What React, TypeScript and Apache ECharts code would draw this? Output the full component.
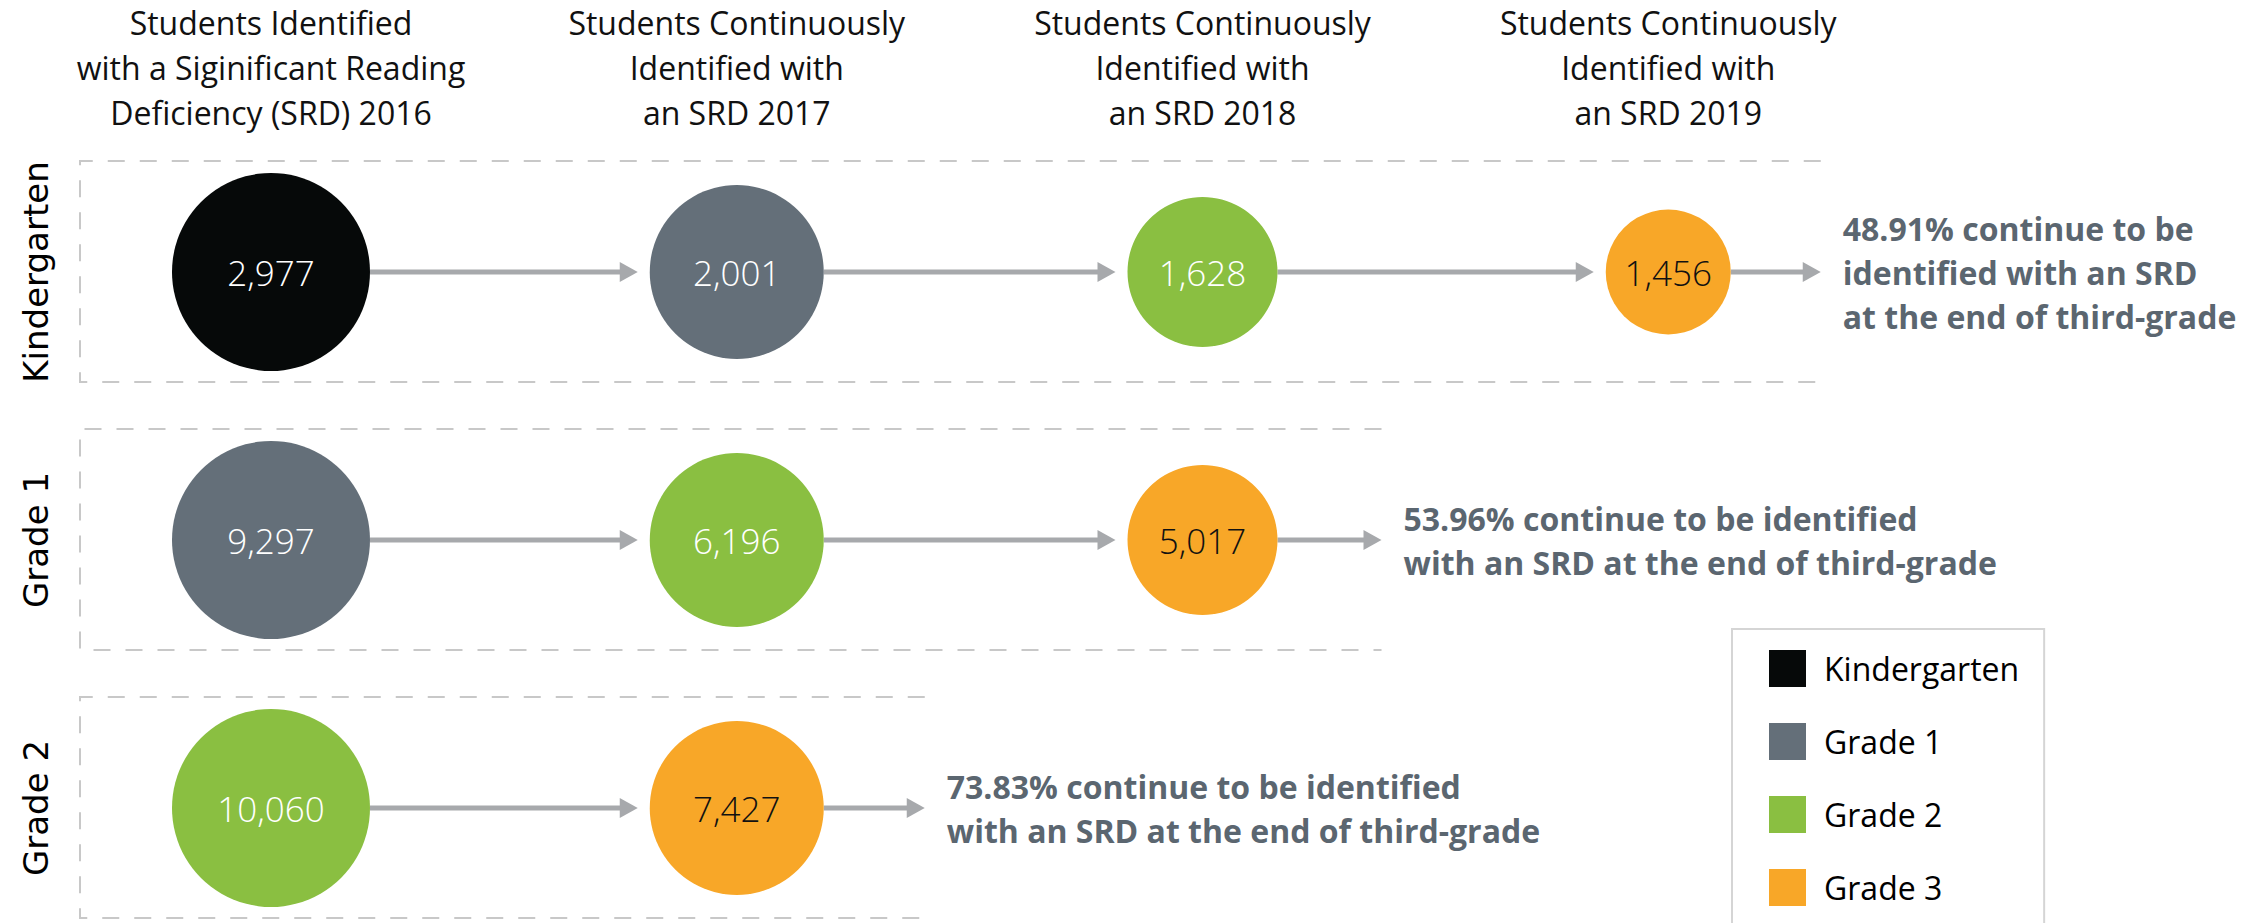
import React, { useEffect, useRef } from "react";
import * as echarts from "echarts";

// ---- data ----
const steps = [
  "Students Identified\nwith a Siginificant Reading\nDeficiency (SRD) 2016",
  "Students Continuously\nIdentified with\nan SRD 2017",
  "Students Continuously\nIdentified with\nan SRD 2018",
  "Students Continuously\nIdentified with\nan SRD 2019",
];
const cohorts = ["Kindergarten", "Grade 1", "Grade 2"];
const kindergartenCounts = [2977, 2001, 1628, 1456];
const grade1Counts = [9297, 6196, 5017];
const grade2Counts = [10060, 7427];
const outcomeText = [
  "48.91% continue to be\nidentified with an SRD\nat the end of third-grade",
  "53.96% continue to be identified\nwith an SRD at the end of third-grade",
  "73.83% continue to be identified\nwith an SRD at the end of third-grade",
];
const grades = ["Kindergarten", "Grade 1", "Grade 2", "Grade 3"];

// ---- styles ----
const gradeColors = ["#060909", "#646f79", "#8abf41", "#f8a728"];
const STEP_RADIUS = [99, 87, 75, 62.5];
const ARROW = "#a7a9ac";
const HEAD = 18;
const GAP = 12;
const TAIL = [90, 104, 101];

const fmt = (v: number) => v.toLocaleString("en-US");

export default function App() {
  const ref = useRef<HTMLDivElement>(null);
  useEffect(() => {
    const chart = echarts.init(ref.current!, null, { renderer: "svg" });
    const counts = [kindergartenCounts, grade1Counts, grade2Counts];
    const points = counts.flatMap((arr, r) => arr.map((v, c) => ({ c, r, v, len: arr.length })));

    const gradeSeries = grades.map((name, g) => ({
      name,
      type: "scatter",
      clip: false,
      z: 3,
      itemStyle: { color: gradeColors[g], opacity: 1 },
      symbolSize: (val: number[]) => STEP_RADIUS[val[0]] * 2,
      emphasis: { disabled: true },
      label: {
        show: true,
        position: "inside",
        formatter: (p: any) => fmt(p.value[2]),
        color: g === 3 ? "#111111" : "#ffffff",
        fontSize: 35,
        fontFamily: "Open Sans",
        fontWeight: 300,
      },
      data: points.filter((d) => d.r + d.c === g).map((d) => [d.c, d.r, d.v]),
    }));

    const flowSeries = {
      name: "flow",
      type: "custom",
      clip: false,
      z: 1,
      silent: true,
      data: points.map((d) => [d.c, d.r, d.v, d.len]),
      encode: { x: 0, y: 1 },
      renderItem: (params: any, api: any) => {
        const col = api.value(0);
        const row = api.value(1);
        const len = api.value(3);
        const [cx, cy] = api.coord([col, row]);
        const x0 = cx + STEP_RADIUS[col];
        const last = col === len - 1;
        const tip = last ? x0 + TAIL[row] : api.coord([col + 1, row])[0] - STEP_RADIUS[col + 1] - GAP;
        const children: any[] = [
          {
            type: "rect",
            shape: { x: x0, y: cy - 2.5, width: tip - HEAD - x0 + 1, height: 5 },
            style: { fill: ARROW },
          },
          {
            type: "polygon",
            shape: { points: [[tip - HEAD, cy - 10], [tip, cy], [tip - HEAD, cy + 10]] },
            style: { fill: ARROW },
          },
        ];
        if (last) {
          const left = api.coord([0, row])[0] - 191;
          children.push({
            type: "polyline",
            shape: { points: [[tip, cy - 111], [left, cy - 111], [left, cy + 110], [tip, cy + 110]] },
            style: { stroke: "#c8c8c8", lineWidth: 2, lineDash: [17, 15], fill: null },
          });
          children.push({
            type: "text",
            x: tip + 22,
            y: cy,
            style: {
              text: outcomeText[row],
              fill: "#5b6670",
              fontSize: 32,
              fontWeight: "bold",
              fontFamily: "Open Sans",
              lineHeight: 44,
              verticalAlign: "middle",
              align: "left",
            },
          });
        }
        return { type: "group", children };
      },
    };

    chart.setOption({
      animation: false,
      backgroundColor: "#ffffff",
      grid: { left: 271, right: 125, top: 272, bottom: 115 },
      xAxis: {
        type: "value",
        position: "top",
        min: 0,
        max: 4,
        interval: 1,
        axisLine: { show: false },
        axisTick: { show: false },
        splitLine: { show: false },
        axisLabel: {
          formatter: (v: number) => steps[v] ?? "",
          fontSize: 32,
          lineHeight: 45,
          fontFamily: "Open Sans",
          color: "#111111",
          margin: 137,
          align: "center",
        },
      },
      yAxis: {
        type: "value",
        inverse: true,
        min: 0,
        max: 2,
        interval: 1,
        axisLine: { show: false },
        axisTick: { show: false },
        splitLine: { show: false },
        axisLabel: {
          formatter: (v: number) => cohorts[v] ?? "",
          rotate: 90,
          fontSize: 34,
          fontFamily: "DejaVu Sans",
          color: "#000000",
          margin: 218,
        },
      },
      legend: {
        orient: "vertical",
        left: 1732,
        top: 629,
        width: 300,
        height: 270,
        selectedMode: false,
        data: grades,
        icon: "rect",
        itemWidth: 37,
        itemHeight: 37,
        itemGap: 36,
        padding: [21, 25, 21, 37],
        borderColor: "#d5d5d5",
        borderWidth: 2,
        textStyle: {
          fontSize: 32,
          fontFamily: "Open Sans",
          color: "#000000",
          padding: [0, 0, 0, 13],
        },
      },
      series: [flowSeries, ...gradeSeries],
    });
    return () => chart.dispose();
  }, []);
  return (
    <div
      ref={ref}
      style={{ position: "fixed", left: 0, top: 0, width: 2259, height: 923 }}
    />
  );
}
